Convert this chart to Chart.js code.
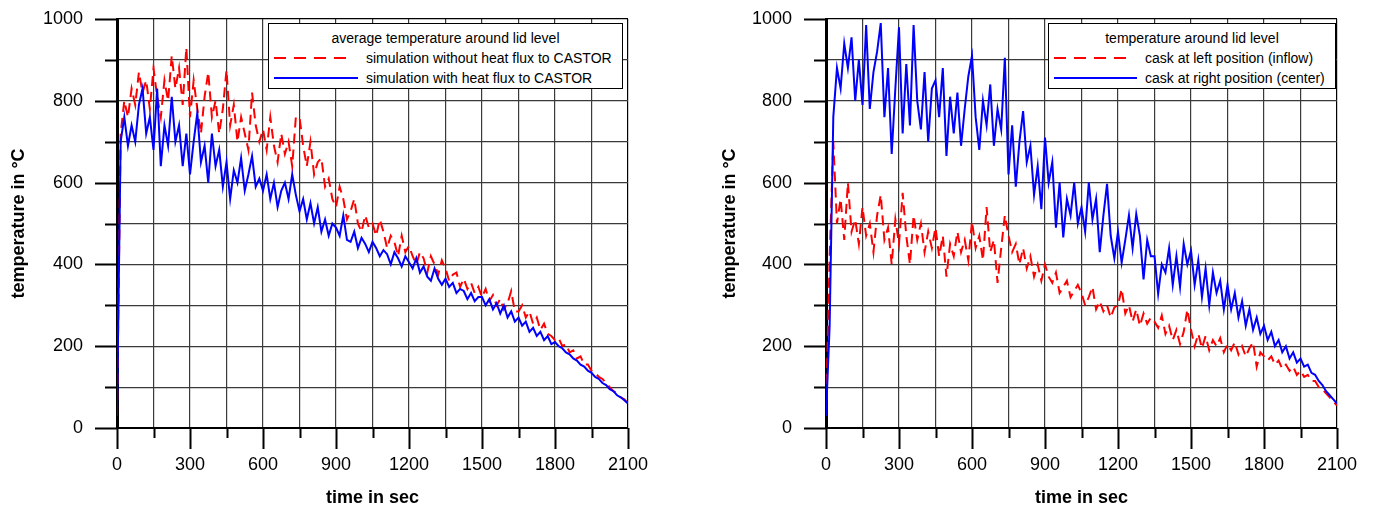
<!DOCTYPE html>
<html lang="en">
<head>
  <meta charset="UTF-8" />
  <title>Temperature around lid level</title>
  <style>
    body {
      margin: 0;
      background: #fff;
      font-family: 'Liberation Sans', Arial, sans-serif;
      color: #000;
    }
    .panel {
      position: absolute;
      top: 0;
      width: 689px;
      height: 509px;
    }
    .legend {
      position: absolute;
      border: 1px solid #000;
      background: #fff;
      font-size: 14px;
      box-sizing: border-box;
    }
    .legend .ltitle {
      position: absolute;
      left: 0; right: 0; top: 6px;
      text-align: center;
      line-height: 16px;
    }
    .legend .ltext {
      position: absolute;
      line-height: 16px;
      white-space: nowrap;
    }
    .legend svg { position: absolute; left: 0; top: 0; }
  </style>
  <script src="https://cdn.jsdelivr.net/npm/chart.js"></script>
</head>
<body>
  <div class="panel" style="left:0">
    <canvas id="leftChart" width="689" height="509"></canvas>
  </div>
  <div class="panel" style="left:689px">
    <canvas id="rightChart" width="689" height="509"></canvas>
  </div>

  <div class="legend" style="left:268px;top:23px;width:355px;height:66px">
    <div class="ltitle">average temperature around lid level</div>
    <svg width="100" height="66">
      <line x1="5" y1="34" x2="79" y2="34" stroke="#ff0000" stroke-width="2" stroke-dasharray="12 8" />
      <line x1="5" y1="54" x2="89" y2="54" stroke="#0000ff" stroke-width="2" />
    </svg>
    <span class="ltext" style="left:97px;top:26px">simulation without heat flux to CASTOR</span>
    <span class="ltext" style="left:97px;top:46px">simulation with heat flux to CASTOR</span>
  </div>

  <div class="legend" style="left:1048px;top:23px;width:288px;height:66px">
    <div class="ltitle">temperature around lid level</div>
    <svg width="100" height="66">
      <line x1="5" y1="34" x2="79" y2="34" stroke="#ff0000" stroke-width="2" stroke-dasharray="12 8" />
      <line x1="5" y1="54" x2="88" y2="54" stroke="#0000ff" stroke-width="2" />
    </svg>
    <span class="ltext" style="left:96px;top:26px">cask at left position (inflow)</span>
    <span class="ltext" style="left:96px;top:46px">cask at right position (center)</span>
  </div>

  <script>
    const timeStep = 15;

    // left panel: average temperature around lid level
    const withoutHeatFlux = [
      30, 720, 800, 760, 830, 790, 870, 820, 850, 780,
      880, 810, 760, 850, 800, 910, 830, 880, 790, 930,
      760, 850, 780, 720, 810, 870, 760, 800, 720, 780,
      875, 740, 790, 700, 760, 720, 680, 820, 740, 700,
      730, 680, 760, 690, 650, 720, 670, 700, 640, 760,
      760, 690, 640, 700, 620, 650, 660, 590, 610, 560,
      540, 590, 560, 510, 530, 560, 500, 480, 520, 490,
      500, 470, 510, 480, 440, 470, 455, 420, 470, 430,
      445, 420, 400, 430, 415, 380, 420, 400, 375, 410,
      390, 360, 375, 380, 345, 365, 340, 355, 330, 345,
      320, 340, 310, 325, 300, 315, 290, 305, 335, 285,
      285, 300, 270, 285, 255, 270, 240, 255, 230, 225,
      215, 220, 200, 205, 185, 190, 170, 175, 155, 155,
      140, 135, 125, 120, 110, 100, 90, 85, 75, 70,
      60
    ];
    const withHeatFlux = [
      30, 700, 760, 690, 740, 700, 790, 830, 720, 760,
      680, 830, 640, 740, 690, 810, 700, 740, 640, 720,
      620, 700, 770, 650, 690, 600, 720, 640, 680, 590,
      650, 560, 630, 600, 660, 580, 620, 665, 590, 610,
      580, 620, 560, 600, 540, 580, 600, 560, 620, 570,
      530, 560, 510, 550, 500, 540, 480, 510, 470, 500,
      490, 470, 520, 460, 455, 480, 440, 465, 450, 430,
      455, 440, 420, 435, 425, 400, 430, 415, 395, 420,
      405, 390, 415, 380, 395, 370, 360, 390, 365, 350,
      365, 345, 355, 330, 340, 335, 315, 330, 310, 320,
      320, 300, 315, 290, 305, 280, 300, 270, 285, 260,
      270, 250, 260, 235, 245, 225, 235, 215, 225, 205,
      210, 200, 195, 185, 180, 170, 165, 155, 150, 140,
      135, 125, 120, 110, 105, 95, 90, 80, 75, 68,
      60
    ];

    // right panel: temperature around lid level, two cask positions
    const caskLeft = [
      30, 420, 700, 500, 560, 460, 600, 480, 510, 450,
      540, 470, 500, 430, 520, 570, 460, 490, 400, 510,
      450, 575, 470, 400, 520, 460, 500, 430, 480, 440,
      490, 420, 470, 370, 450, 420, 480, 430, 460, 410,
      505, 440, 470, 410, 540, 430, 460, 355, 440, 520,
      470, 430, 450, 400, 440, 390, 420, 370, 400, 360,
      400, 370, 355, 380, 330, 345, 360, 320, 335, 350,
      330, 300, 320, 345, 290, 310, 285, 300, 270, 295,
      300, 340, 280, 300, 260, 290, 250, 280, 255, 270,
      260, 245, 275, 230, 250, 215, 240, 205, 235, 290,
      240, 200, 230, 195, 225, 190, 215, 200, 220, 185,
      205, 190, 210, 180, 200, 175, 195, 210, 150, 185,
      175, 165, 175, 155, 165, 145, 155, 140, 150, 130,
      140, 125, 130, 115, 115, 100, 95, 85, 75, 65,
      55
    ];
    const caskRight = [
      30, 250, 760, 880, 830, 940, 880, 955, 800, 900,
      790, 985, 780, 870, 920, 990, 760, 880, 670, 830,
      980, 720, 890, 740, 985, 800, 730, 870, 700, 830,
      850, 760, 880, 665, 810, 720, 820, 690, 780, 860,
      910, 760, 680, 800, 740, 840, 690, 780, 730, 905,
      620, 740, 590, 700, 775, 650, 690, 570, 640, 535,
      710, 600, 650, 490, 600, 466, 560, 520, 600, 500,
      540, 480, 600, 510, 560, 430, 520, 597, 470, 415,
      480, 404, 460, 520, 440, 523, 470, 363, 460, 420,
      420, 328, 400, 380, 440, 350, 420, 345, 450, 400,
      434, 350, 410, 320, 390, 300, 380, 330, 360, 290,
      350, 290, 330, 270, 310, 250, 290, 240, 270, 230,
      250, 215, 235, 200, 215, 185, 200, 170, 185, 160,
      170, 150, 155, 135, 130, 115, 105, 90, 80, 70,
      60
    ];

    // axis ticks: majors carry labels, minors sit halfway between
    const xMajorTicks = [0, 300, 600, 900, 1200, 1500, 1800, 2100];
    const xMinorStep = 150;
    const yMajorTicks = [0, 200, 400, 600, 800, 1000];
    const yMinorStep = 100;

    Chart.defaults.font.family = "'Liberation Sans', Arial, sans-serif";
    Chart.defaults.font.size = 18;
    Chart.defaults.color = '#000';

    function toPoints(values) {
      return values.map((v, i) => ({ x: i * timeStep, y: v }));
    }

    // tick marks hanging outside the plot frame, long for majors, short for minors
    const outerTicks = {
      id: 'outerTicks',
      afterDraw(chart) {
        const ctx = chart.ctx;
        const xs = chart.scales.x, ys = chart.scales.y;
        const a = chart.chartArea;
        ctx.save();
        ctx.strokeStyle = '#000';
        ctx.lineWidth = 2;
        ctx.beginPath();
        for (let v = xs.min; v <= xs.max; v += xMinorStep) {
          const px = Math.round(xs.getPixelForValue(v)) + 0.5;
          const len = xMajorTicks.includes(v) ? 21 : 10;
          ctx.moveTo(px, a.bottom);
          ctx.lineTo(px, a.bottom + len);
        }
        for (let v = ys.min; v <= ys.max; v += yMinorStep) {
          const py = Math.round(ys.getPixelForValue(v)) + 0.5;
          const len = yMajorTicks.includes(v) ? 22 : 12;
          ctx.moveTo(a.left, py);
          ctx.lineTo(a.left - len, py);
        }
        ctx.stroke();
        ctx.restore();
      }
    };

    function makeChart(id, series, axisWidth, padRight, titlePad) {
      const gridColor = c => (c.tick && (c.tick.value === 1000 || c.tick.value === 2100)) ? '#000' : '#3a3a3a';
      return new Chart(document.getElementById(id), {
        type: 'line',
        data: {
          datasets: series.map(s => ({
            label: s.label,
            data: toPoints(s.values),
            borderColor: s.color,
            borderWidth: 2,
            borderDash: s.dash,
            pointRadius: 0,
            tension: 0,
            order: s.order
          }))
        },
        options: {
          responsive: false,
          animation: false,
          devicePixelRatio: 1,
          layout: { padding: { top: 19, right: padRight, bottom: 0, left: 0 } },
          plugins: { legend: { display: false }, tooltip: { enabled: false } },
          scales: {
            x: {
              type: 'linear',
              min: 0,
              max: 2100,
              afterFit: s => {
                s.height = 81;
                s.paddingLeft = 0;
                s.paddingRight = 0;
              },
              border: { color: '#000', width: 2 },
              grid: { color: gridColor, lineWidth: 1.2, drawTicks: false },
              ticks: {
                stepSize: xMinorStep,
                autoSkip: false,
                maxRotation: 0,
                padding: 26,
                callback: v => xMajorTicks.includes(v) ? String(v) : ''
              },
              title: {
                display: true,
                text: 'time in sec',
                font: { size: 18, weight: 'bold' },
                padding: { top: 0, bottom: 0 }
              }
            },
            y: {
              min: 0,
              max: 1000,
              afterFit: s => {
                s.width = axisWidth;
                s.paddingTop = 0;
                s.paddingBottom = 0;
              },
              border: { color: '#000', width: 3 },
              grid: { color: gridColor, lineWidth: 1.2, drawTicks: false },
              ticks: {
                stepSize: yMinorStep,
                autoSkip: false,
                padding: 34,
                callback: v => yMajorTicks.includes(v) ? String(v) : ''
              },
              title: {
                display: true,
                text: 'temperature in °C',
                font: { size: 18, weight: 'bold' },
                padding: { top: titlePad, bottom: 0 }
              }
            }
          }
        },
        plugins: [outerTicks]
      });
    }

    makeChart('leftChart', [
      { label: 'simulation without heat flux to CASTOR', values: withoutHeatFlux, color: '#ff0000', dash: [10, 6], order: 1 },
      { label: 'simulation with heat flux to CASTOR', values: withHeatFlux, color: '#0000ff', dash: [], order: 0 }
    ], 117, 61, 8);

    makeChart('rightChart', [
      { label: 'cask at left position (inflow)', values: caskLeft, color: '#ff0000', dash: [10, 6], order: 1 },
      { label: 'cask at right position (center)', values: caskRight, color: '#0000ff', dash: [], order: 0 }
    ], 137, 41, 30);
  </script>
</body>
</html>
